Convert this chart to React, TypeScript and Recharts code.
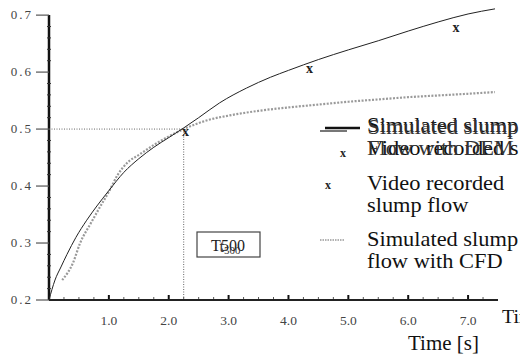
import React from 'react';
import { ComposedChart, Line, Scatter, XAxis, YAxis, ReferenceLine } from 'recharts';

// Simulated slump flow with DEM (solid)
const demTime = [0, 0.1, 0.2, 0.3, 0.45, 0.63, 0.8, 1.0, 1.25, 1.5, 1.75, 2.0, 2.25, 2.5, 2.85, 3.3, 3.7, 4.0, 4.5, 5.0, 5.5, 6.0, 6.5, 7.0, 7.45];
const demFlow = [0.2, 0.235, 0.258, 0.28, 0.31, 0.34, 0.365, 0.392, 0.424, 0.448, 0.468, 0.485, 0.502, 0.52, 0.546, 0.572, 0.591, 0.603, 0.622, 0.639, 0.655, 0.672, 0.688, 0.702, 0.711];

// Simulated slump flow with CFD (grey dotted)
const cfdTime = [0.22, 0.4, 0.52, 0.7, 0.85, 1.0, 1.15, 1.3, 1.52, 1.75, 2.0, 2.25, 2.63, 3.07, 3.5, 4.0, 4.5, 5.0, 5.5, 6.0, 6.5, 7.0, 7.45];
const cfdFlow = [0.235, 0.265, 0.3, 0.335, 0.363, 0.39, 0.42, 0.44, 0.456, 0.472, 0.487, 0.5, 0.515, 0.525, 0.532, 0.538, 0.543, 0.548, 0.552, 0.556, 0.559, 0.562, 0.565];

// Video recorded slump flow (x markers)
const videoTime = [2.28, 4.35, 6.8];
const videoFlow = [0.494, 0.605, 0.677];

const t500 = 2.25;
const t500Flow = 0.5;

const xMajorTicks = [1, 2, 3, 4, 5, 6, 7];
const xTickLabels = ['1.0', '2.0', '3.0', '4.0', '5.0', '6.0', '7.0'];
const yMajorTicks = [0.2, 0.3, 0.4, 0.5, 0.6, 0.7];
const yTickLabels = ['0.2', '0.3', '0.4', '0.5', '0.6', '0.7'];

const demData = demTime.map((t, i) => ({ t, v: demFlow[i] }));
const cfdData = cfdTime.map((t, i) => ({ t, v: cfdFlow[i] }));
const videoData = videoTime.map((t, i) => ({ t, v: videoFlow[i] }));

// minor ticks: quarter seconds on x, 0.02 on y
const xTicks: number[] = [];
for (let k = 1; k < 30; k++) xTicks.push(k / 4);
const yTicks: number[] = [];
for (let k = 10; k <= 35; k++) yTicks.push(k / 50);

const serif = "'Liberation Serif', 'Times New Roman', serif";

const near = (a: number, b: number) => Math.abs(a - b) < 1e-6;

const XTick = (props: any) => {
  const { x, y, payload } = props;
  const idx = xMajorTicks.findIndex((m) => near(m, payload.value));
  if (idx < 0) {
    return <line x1={x} x2={x} y1={y - 1} y2={y - 3} stroke="#555" strokeWidth={1} />;
  }
  return (
    <g>
      <line x1={x} x2={x} y1={y - 1} y2={y - 5} stroke="#111" strokeWidth={2} />
      <text x={x} y={y + 25} textAnchor="middle" fontFamily={serif} fontSize={13.5} fill="#444">
        {xTickLabels[idx]}
      </text>
    </g>
  );
};

const YTick = (props: any) => {
  const { x, y, payload } = props;
  const idx = yMajorTicks.findIndex((m) => near(m, payload.value));
  if (idx < 0) {
    return <line x1={x - 2} x2={x + 2} y1={y} y2={y} stroke="#333" strokeWidth={1} />;
  }
  return (
    <g>
      <line x1={x - 13} x2={x} y1={y} y2={y} stroke="#555" strokeWidth={1.2} />
      <text x={x - 16} y={y + 4} textAnchor="end" fontFamily={serif} fontSize={13} letterSpacing={2} fill="#444">
        {yTickLabels[idx]}
      </text>
    </g>
  );
};

const XMark = (props: any) => {
  const { cx, cy } = props;
  return (
    <text x={cx} y={cy + 4} textAnchor="middle" fontFamily={serif} fontWeight="bold" fontSize={14} fill="#222">
      x
    </text>
  );
};

// overlay text helper (coordinates relative to chart box, horizontally stretched like the scan)
const Txt = ({ x, y, children, size = 20, fill = '#111', sx = 1.12 }: any) => (
  <text transform={`translate(${x},${y}) scale(${sx},1)`} fontFamily={serif} fontSize={size} fill={fill}>
    {children}
  </text>
);

export default function App() {
  const W = 520;
  const H = 348;
  return (
    <div style={{ position: 'relative', width: W, height: H, background: '#fff' }}>
      <ComposedChart width={W} height={H} data={demData} margin={{ top: 0, right: 30, left: 0, bottom: 0 }}>
        <XAxis
          type="number"
          dataKey="t"
          domain={[0, 7.5]}
          ticks={xTicks}
          interval={0}
          tick={<XTick />}
          tickLine={false}
          tickSize={0}
          tickMargin={0}
          height={56}
          axisLine={{ stroke: '#222', strokeWidth: 2 }}
          allowDataOverflow
        />
        <YAxis
          type="number"
          dataKey="v"
          domain={[0.2, 0.7125]}
          ticks={yTicks}
          interval={0}
          tick={<YTick />}
          tickLine={false}
          tickSize={0}
          tickMargin={0}
          width={41}
          axisLine={false}
          allowDataOverflow
        />
        <ReferenceLine
          segment={[{ x: 0, y: 0.2 }, { x: 0, y: 0.7 }]}
          stroke="#111"
          strokeWidth={2.5}
        />
        <ReferenceLine
          segment={[{ x: 0, y: t500Flow }, { x: t500, y: t500Flow }]}
          stroke="#666"
          strokeDasharray="1 1.5"
          strokeWidth={1}
        />
        <ReferenceLine
          segment={[{ x: t500, y: 0.2 }, { x: t500, y: t500Flow }]}
          stroke="#666"
          strokeDasharray="1 1.5"
          strokeWidth={1}
        />
        <Line
          data={cfdData}
          dataKey="v"
          type="monotone"
          stroke="#9a9a9a"
          strokeWidth={2.2}
          strokeDasharray="2 1.5"
          dot={false}
          isAnimationActive={false}
        />
        <Line
          data={demData}
          dataKey="v"
          type="monotone"
          stroke="#222"
          strokeWidth={1}
          dot={false}
          isAnimationActive={false}
        />
        <Scatter data={videoData} dataKey="v" shape={<XMark />} isAnimationActive={false} />
      </ComposedChart>
      <svg width={W} height={H} style={{ position: 'absolute', left: 0, top: 0, pointerEvents: 'none' }}>
        {/* T500 box */}
        <rect x={189} y={224} width={63} height={25} fill="#fff" stroke="#444" strokeWidth={1.2} />
        <text x={220} y={243} textAnchor="middle" fontFamily={serif} fontSize={16} fill="#222">T500</text>
        <text x={222} y={244} textAnchor="middle" fontFamily={serif} fontSize={16} fill="#333">
          t<tspan fontSize={11} dy={2}>500</tspan>
        </text>

        {/* legend: DEM */}
        <line x1={317} x2={352} y1={120} y2={120} stroke="#111" strokeWidth={2.5} />
        <line x1={312} x2={339} y1={123} y2={123} stroke="#777" strokeWidth={2} />
        <Txt x={359} y={124}>Simulated slump</Txt>
        <Txt x={359.5} y={125.5} fill="#333">Simulated slump</Txt>
        <text x={335} y={149} textAnchor="middle" fontFamily={serif} fontWeight="bold" fontSize={12} fill="#222">x</text>
        <Txt x={359} y={147}>Video recorded s</Txt>
        <Txt x={359} y={147} fill="#333">Flow with DEM</Txt>

        {/* legend: video */}
        <text x={320} y={181} textAnchor="middle" fontFamily={serif} fontWeight="bold" fontSize={12} fill="#222">x</text>
        <Txt x={359} y={182}>Video recorded</Txt>
        <Txt x={359} y={204}>slump flow</Txt>

        {/* legend: CFD */}
        <line x1={312} x2={337} y1={232} y2={232} stroke="#999" strokeWidth={1.5} strokeDasharray="1.5 1" />
        <Txt x={359} y={238}>Simulated slump</Txt>
        <Txt x={359} y={260}>flow with CFD</Txt>

        {/* axis titles */}
        <Txt x={494} y={315} size={19} sx={1.05}>Time</Txt>
        <Txt x={400} y={342} sx={1.05}>Time [s]</Txt>
      </svg>
    </div>
  );
}
